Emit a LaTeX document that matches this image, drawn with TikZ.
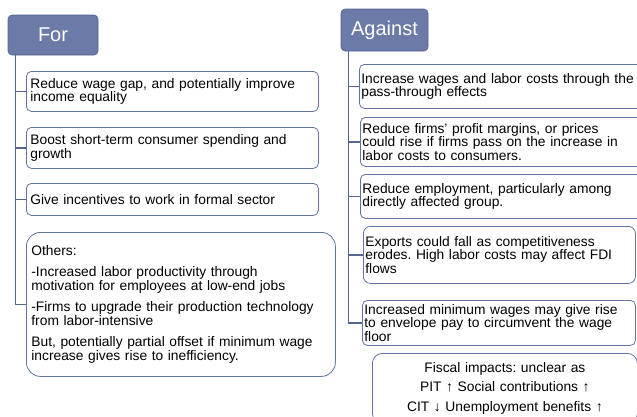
\documentclass[tikz,border=0pt]{standalone}
\usepackage{fontspec}
\setmainfont{Liberation Sans}
\usetikzlibrary{positioning}
\definecolor{hdrfill}{RGB}{107,122,166}
\definecolor{hdrline}{RGB}{84,101,146}
\definecolor{boxline}{RGB}{98,116,163}
\frenchspacing

\begin{document}
\begin{tikzpicture}[x=1pt,y=-1pt]
    \tikzstyle{header}=[fill=hdrfill, draw=hdrline, line width=0.6pt, rounded corners=4pt, text=white, font=\fontsize{20}{24}\selectfont]
    \tikzstyle{item}=[draw=boxline, line width=0.8pt, rounded corners=5pt, fill=white, anchor=north west, align=left, inner xsep=4pt, inner ysep=2pt, font=\fontsize{13.8}{13.8}\selectfont]
    \tikzstyle{right item}=[item, inner xsep=2pt]
    \tikzstyle{conn}=[draw=hdrline, line width=1.2pt]

    \useasboundingbox (0,0) rectangle (637,416);

    % Headers
    \node[header, minimum width=90pt, minimum height=40pt] (forhd) at (53,35) {For};
    \node[header, minimum width=87pt, minimum height=42pt] (aghd) at (384.5,30) {Against};

    % Arguments for
    \node[item, text width=284pt, minimum height=40pt] (f1) at (26,71) {Reduce wage gap, and potentially improve\\income equality};
    \node[item, text width=284pt, minimum height=41pt] (f2) at (26,127) {Boost short-term consumer spending and\\growth};
    \node[item, text width=284pt, minimum height=32pt] (f3) at (26,183) {Give incentives to work in formal sector};
    \node[item, text width=299pt, inner xsep=5pt, minimum height=144pt, rounded corners=14pt] (f4) at (26,232)
        {Others:\\[7.5pt]-Increased labor productivity through\\motivation for employees at low-end jobs\\[7.5pt]-Firms to upgrade their production technology\\from labor-intensive\\[7.5pt]But, potentially partial offset if minimum wage\\increase gives rise to inefficiency.};

    % Arguments against
    \node[right item, text width=286pt, minimum height=44pt] (a1) at (359,64) {Increase wages and labor costs through the\\pass-through effects};
    \node[right item, text width=286pt, minimum height=49pt] (a2) at (360,117) {Reduce firms' profit margins, or prices\\could rise if firms pass on the increase in\\labor costs to consumers.};
    \node[right item, text width=286pt, minimum height=44pt] (a3) at (360,174) {Reduce employment, particularly among\\directly affected group.};
    \node[right item, text width=268pt, minimum height=57pt, rounded corners=7pt] (a4) at (363,226) {Exports could fall as competitiveness\\erodes. High labor costs may affect FDI\\flows};
    \node[right item, text width=269pt, minimum height=45pt] (a5) at (362,300) {Increased minimum wages may give rise\\to envelope pay to circumvent the wage\\floor};

    % Fiscal side note
    \node[item, align=center, text width=257pt, minimum height=70pt, rounded corners=10pt] (fiscal) at (372,353)
        {Fiscal impacts: unclear as\\[6pt]PIT ↑ Social contributions ↑\\[6pt]CIT ↓ Unemployment benefits ↑};

    % Tree lines
    \coordinate (fl) at ([xshift=8pt]forhd.south west);
    \foreach \i in {1,...,4}
        \draw[conn] (fl) |- (f\i.west);
    \coordinate (al) at ([xshift=8pt]aghd.south west);
    \foreach \i in {1,...,5}
        \draw[conn] (al) |- (a\i.west);
\end{tikzpicture}
\end{document}
